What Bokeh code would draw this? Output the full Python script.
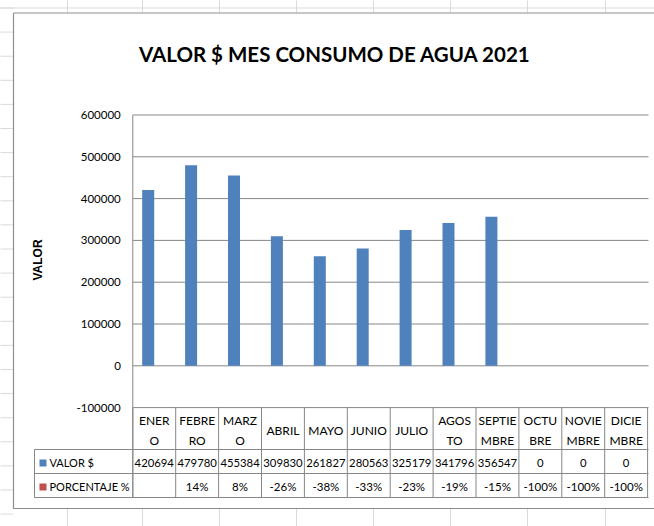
import math
from bokeh.plotting import figure
from bokeh.models import ColumnDataSource, Range1d, LinearAxis, FixedTicker, NumeralTickFormatter
from bokeh.core.properties import value
from bokeh.transform import dodge
from bokeh.embed import file_html
from bokeh.resources import INLINE

# ---------------- data ----------------
title = "VALOR $ MES CONSUMO DE AGUA 2021"
y_label = "VALOR"
months = ["ENER\nO", "FEBRE\nRO", "MARZ\nO", "ABRIL", "MAYO", "JUNIO", "JULIO",
          "AGOS\nTO", "SEPTIE\nMBRE", "OCTU\nBRE", "NOVIE\nMBRE", "DICIE\nMBRE"]
valor = [420694, 479780, 455384, 309830, 261827, 280563, 325179, 341796, 356547, 0, 0, 0]
porcentaje = [None, 14, 8, -26, -38, -33, -23, -19, -15, -100, -100, -100]
series_names = ["VALOR $", "PORCENTAJE %"]
y_ticks = [-100000, 0, 100000, 200000, 300000, 400000, 500000, 600000]

# ---------------- layout helpers (picture pixels -> data) ----------------
W, H = 654, 526
COL0 = 132.3
COLW = 42.9
Y0PX = 365.3
PX_PER_UNIT = 41.8 / 100000.0


def X(px):
    return (px - COL0) / COLW - 0.5


def Y(py):
    return (Y0PX - py) / PX_PER_UNIT


FONT = "Lato"
GRID = "#878787"
SHEET = "#dadada"

p = figure(width=W, height=H, x_range=Range1d(X(0), X(W)),
           y_range=Range1d(Y(H), Y(0)), output_backend="svg",
           toolbar_location=None, x_axis_location=None, y_axis_location=None,
           min_border=0, outline_line_color=None)
p.background_fill_color = "white"
p.border_fill_color = "white"
p.grid.visible = False

# spreadsheet background
sheet_x = [67, 142, 219, 296, 373, 450, 527, 605]
p.segment(x0=[X(v) for v in sheet_x], x1=[X(v) for v in sheet_x],
          y0=[Y(-2)] * len(sheet_x), y1=[Y(12)] * len(sheet_x), line_color=SHEET, line_width=1)
p.segment(x0=[X(v) for v in sheet_x], x1=[X(v) for v in sheet_x],
          y0=[Y(508)] * len(sheet_x), y1=[Y(530)] * len(sheet_x), line_color=SHEET, line_width=1)
sheet_y = [7.5 + 24.1 * k for k in range(23)]
p.segment(x0=[X(-2)] * len(sheet_y), x1=[X(13)] * len(sheet_y),
          y0=[Y(v) for v in sheet_y], y1=[Y(v) for v in sheet_y], line_color=SHEET, line_width=1)
p.segment(x0=[X(-2)], x1=[X(W + 2)], y0=[Y(7.5)], y1=[Y(7.5)], line_color=SHEET, line_width=1)

# chart area
p.quad(left=X(13), right=X(700), top=Y(12.5), bottom=Y(508), fill_color="white",
       line_color="#8e8e8e", line_width=1.2)

# gridlines
p.segment(x0=[X(COL0)] * len(y_ticks), x1=[X(648)] * len(y_ticks), y0=y_ticks, y1=y_ticks,
          line_color=GRID, line_width=1)

# data table lines
row_lines = [449, 473, 497]
p.segment(x0=[X(34)] * 3, x1=[X(648)] * 3, y0=[Y(v) for v in row_lines],
          y1=[Y(v) for v in row_lines], line_color=GRID, line_width=1)
edges = [i - 0.5 for i in range(len(months) + 1)]
p.segment(x0=edges, x1=edges, y0=[y_ticks[0]] * len(edges), y1=[Y(497)] * len(edges),
          line_color=GRID, line_width=1)
p.segment(x0=[X(COL0), X(34)], x1=[X(COL0), X(34)], y0=[y_ticks[-1], Y(449)],
          y1=[Y(497), Y(497)], line_color=GRID, line_width=1)

# header lines: split two-line month labels
line1, line2, single = [], [], []
for m in months:
    parts = m.split("\n")
    if len(parts) == 2:
        line1.append(parts[0]); line2.append(parts[1]); single.append("")
    else:
        line1.append(""); line2.append(""); single.append(parts[0])

src = ColumnDataSource(dict(
    idx=list(range(len(months))),
    valor=valor,
    valor_txt=[str(v) for v in valor],
    pct_txt=["" if v is None else f"{v}%" for v in porcentaje],
    line1=line1, line2=line2, single=single,
))

# bars
p.vbar(x=dodge("idx", -0.141, range=p.x_range), width=0.28, top="valor", bottom=0,
       source=src, fill_color="#4F81BD", line_color=None)

# y axis
yaxis = LinearAxis(fixed_location=-0.5, ticker=FixedTicker(ticks=y_ticks),
                   formatter=NumeralTickFormatter(format="0"),
                   major_tick_in=0, major_tick_out=0, minor_tick_in=0, minor_tick_out=0,
                   axis_line_color=None, major_label_standoff=12,
                   major_label_text_font=FONT, major_label_text_font_size="11.5px",
                   major_label_text_color="#000000")
p.add_layout(yaxis, "left")

# table text
common = dict(text_font=value(FONT), text_color="#000000",
              text_align="center", text_baseline="middle")
p.text(x="idx", y=Y(419.5), text="line1", source=src, text_font_size="12px", **common)
p.text(x="idx", y=Y(439.5), text="line2", source=src, text_font_size="12px", **common)
p.text(x="idx", y=Y(429.5), text="single", source=src, text_font_size="12px", **common)
p.text(x="idx", y=Y(462), text="valor_txt", source=src, text_font_size="11.3px", **common)
p.text(x="idx", y=Y(486), text="pct_txt", source=src, text_font_size="11.5px", **common)

# legend keys in the table
p.scatter(x=[X(42.5)] * 2, y=[Y(462.5), Y(486.5)], marker="square", size=7,
          fill_color=["#4F81BD", "#C0504D"], line_color=None)
p.text(x=[X(49)] * 2, y=[Y(462), Y(486)], text=series_names, text_font=value(FONT),
       text_font_size="11px", text_color="#000000", text_align="left", text_baseline="middle")

# axis title
p.text(x=[X(37)], y=[Y(259.5)], text=[y_label], angle=math.pi / 2,
       text_font=value("Liberation Sans"), text_font_style="bold", text_font_size="12px",
       text_color="#000000", text_align="center", text_baseline="middle")

# chart title
p.text(x=[X(334.5)], y=[Y(53)], text=[title], text_font=value(FONT),
       text_font_style="bold", text_font_size="20.5px", text_color="#000000",
       text_align="center", text_baseline="middle")

open("out.html", "w").write(file_html(p, INLINE))
